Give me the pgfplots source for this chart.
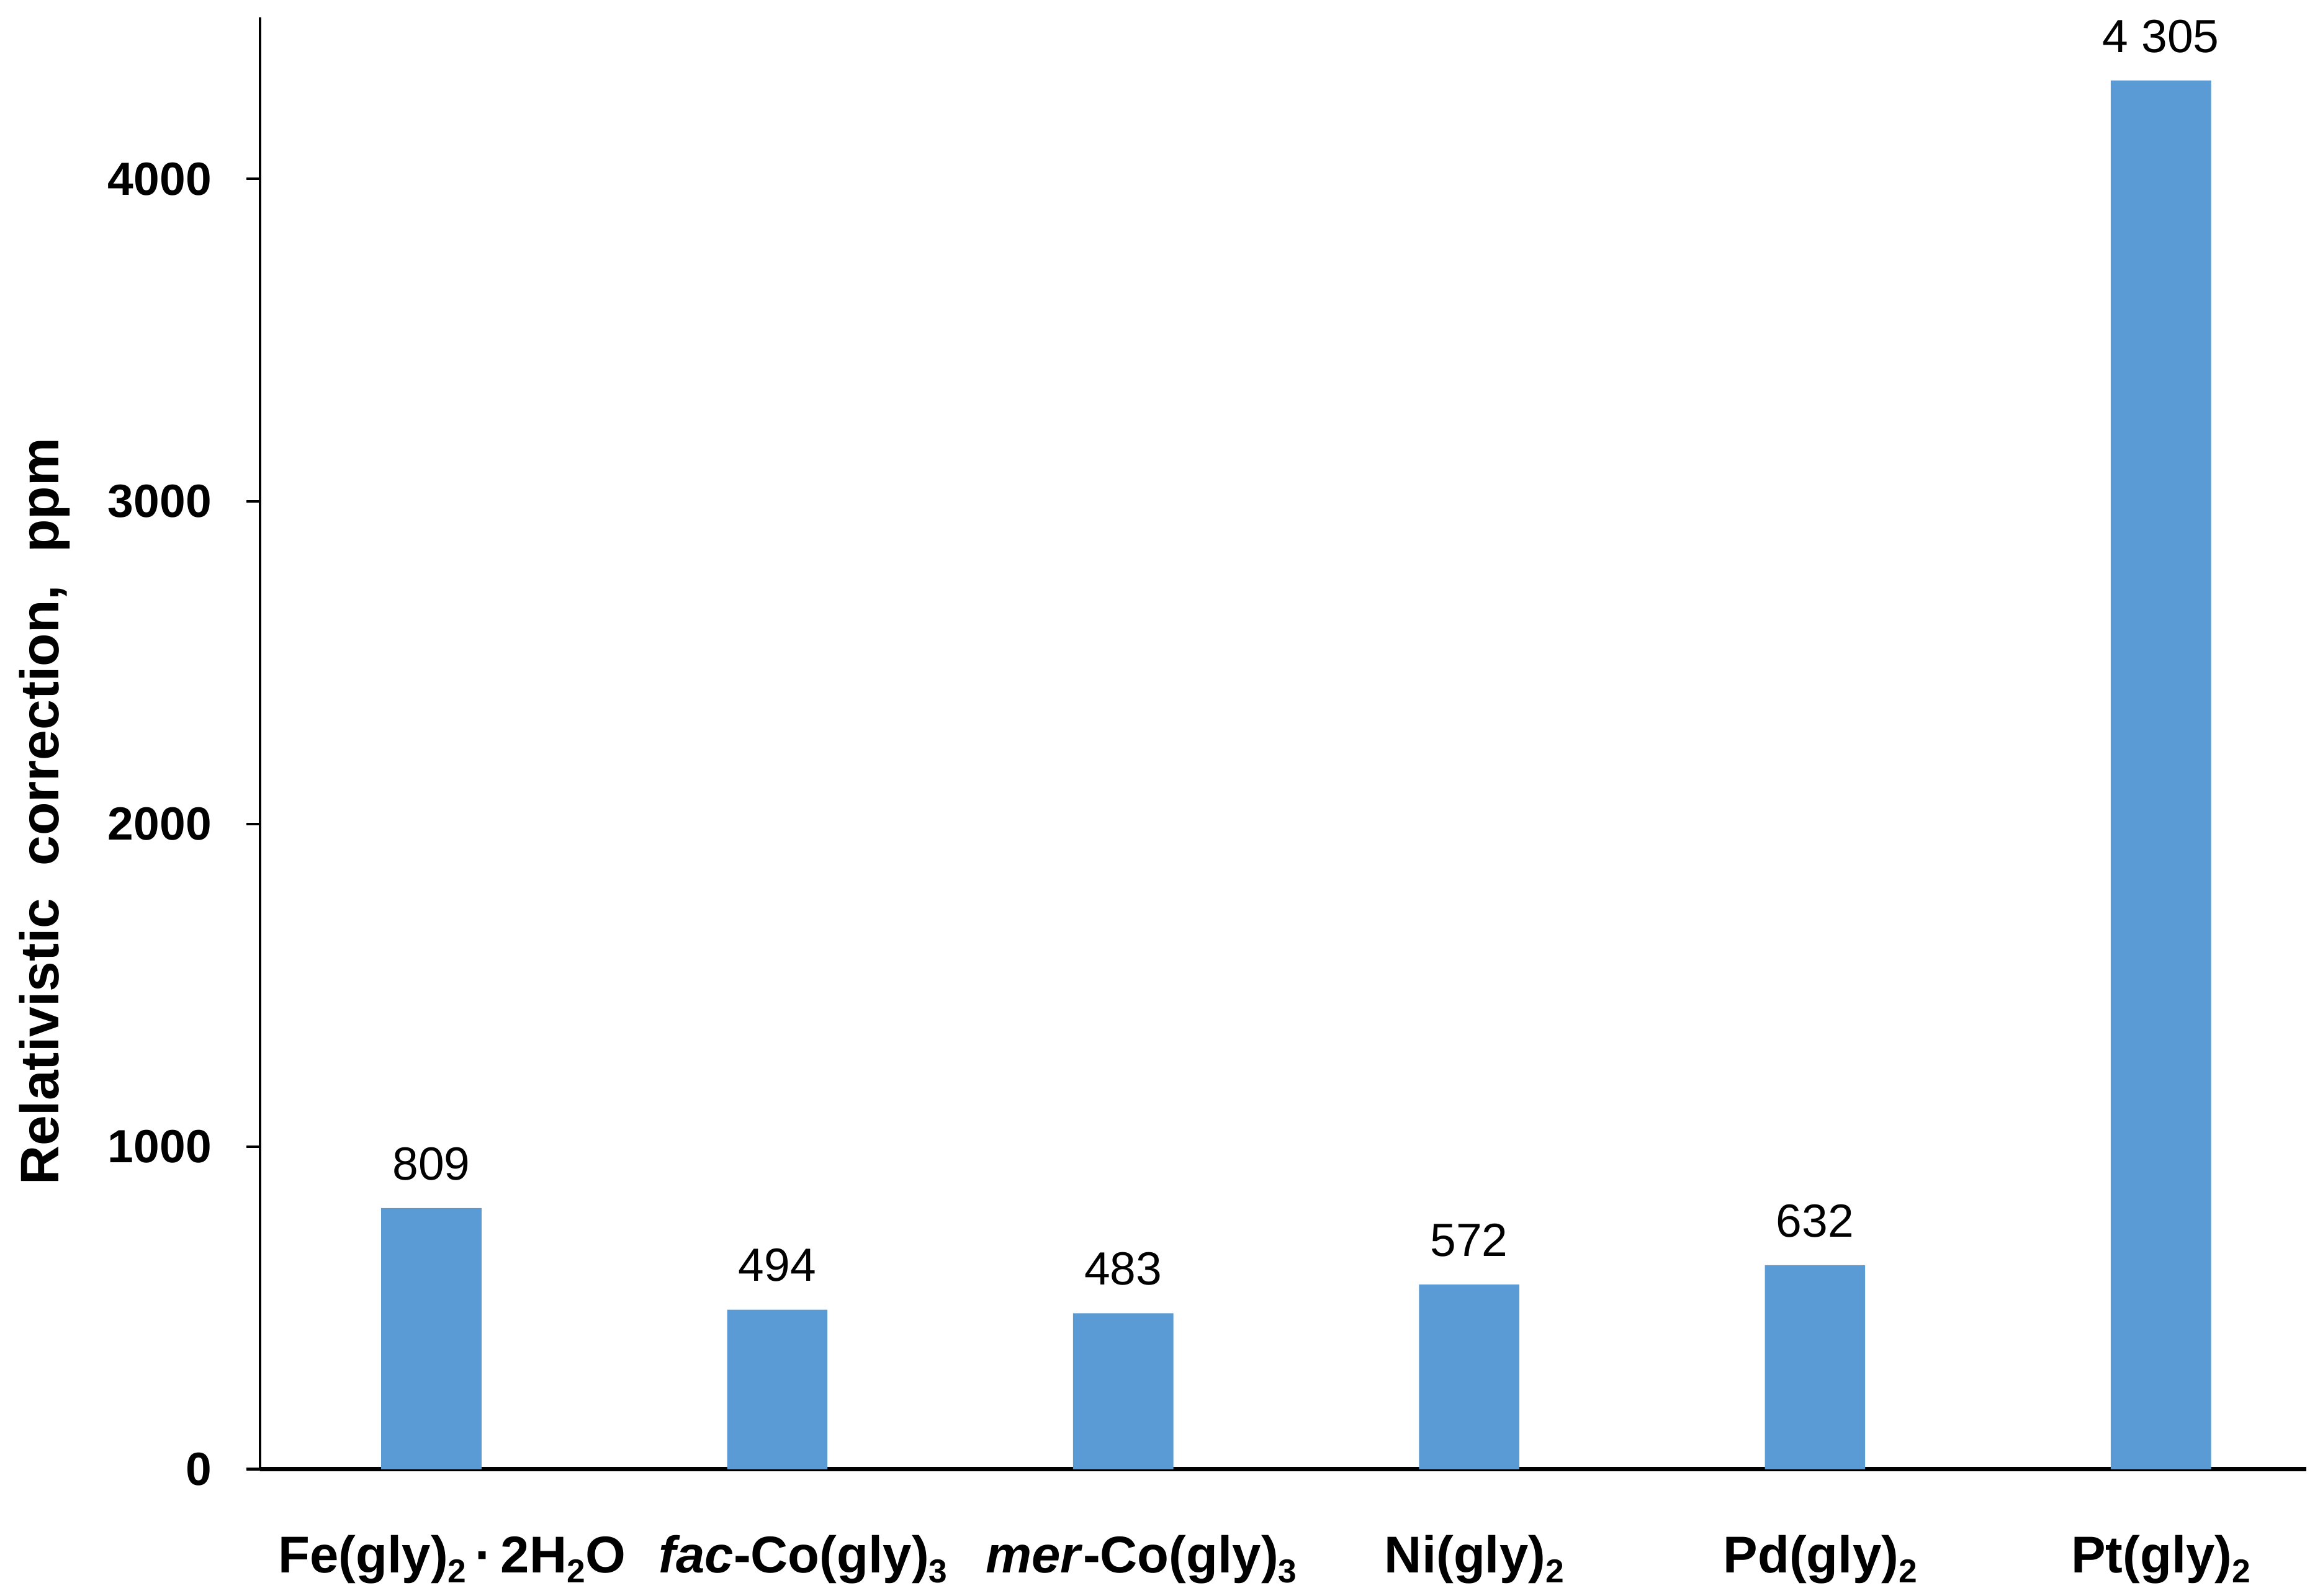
\documentclass[border=0pt]{standalone}
\usepackage{pgfplots}
\pgfplotsset{compat=1.18}
\usepackage{fontspec}
\setmainfont{Liberation Sans}
\definecolor{barblue}{HTML}{5B9BD5}
\newcommand\sub[1]{\raisebox{-1.9pt}{\fontsize{6.4}{7}\selectfont #1}}
\begin{document}
\begin{tikzpicture}
\path[use as bounding box] (-50.3pt,-24.5pt) rectangle (397.3pt,284.1pt);
\begin{axis}[
  at={(0,0)}, anchor=south west,
  scale only axis, width=395.6pt, height=280.7pt,
  xmin=-0.495, xmax=5.42, ymin=0, ymax=4500,
  axis x line=bottom, axis y line=left,
  axis line style={-},
  every outer x axis line/.append style={line width=0.9pt},
  every outer y axis line/.append style={line width=0.5pt},
  /pgf/number format/assume math mode=true,
  /pgf/number format/1000 sep={},
  ytick={0,1000,2000,3000,4000},
  tick align=outside, major tick length=2.6pt,
  ytick style={line width=0.5pt, black},
  yticklabel style={font=\bfseries\fontsize{9}{10}\selectfont, inner sep=0pt, xshift=-6.6pt},
  xtick=data, xtick style={draw=none},
  xticklabels={{\hspace*{8pt}Fe(gly)\sub{2}\,·\,2H\sub{2}O},
               {\hspace*{10pt}\textit{fac}-Co(gly)\sub{3}},
               {\hspace*{7pt}\textit{mer}-Co(gly)\sub{3}},
               {\hspace*{2pt}Ni(gly)\sub{2}},
               {\hspace*{2pt}Pd(gly)\sub{2}},
               {Pt(gly)\sub{2}}},
  xticklabel style={font=\bfseries\fontsize{10}{12}\selectfont, anchor=north, inner sep=0pt, yshift=-10pt},
  ylabel={Relativistic\hspace{0.6em}correction,\hspace{0.6em}ppm},
  every axis y label/.style={at={(axis description cs:0,0.453)}, xshift=-41.7pt, rotate=90, anchor=center, font=\bfseries\fontsize{10.5}{12}\selectfont},
]
\addplot[ybar, fill=barblue, draw=none, bar width=0.29,
  nodes near coords, point meta=explicit symbolic,
  nodes near coords style={font=\fontsize{9}{10}\selectfont, inner sep=0pt, anchor=south, yshift=5.2pt}]
  table[x=x, y=y, meta=label, col sep=comma] {
x,y,label
0,809,809
1,494,494
2,483,483
3,572,572
4,632,632
5,4305,{4 305}
};
\end{axis}
\end{tikzpicture}
\end{document}
